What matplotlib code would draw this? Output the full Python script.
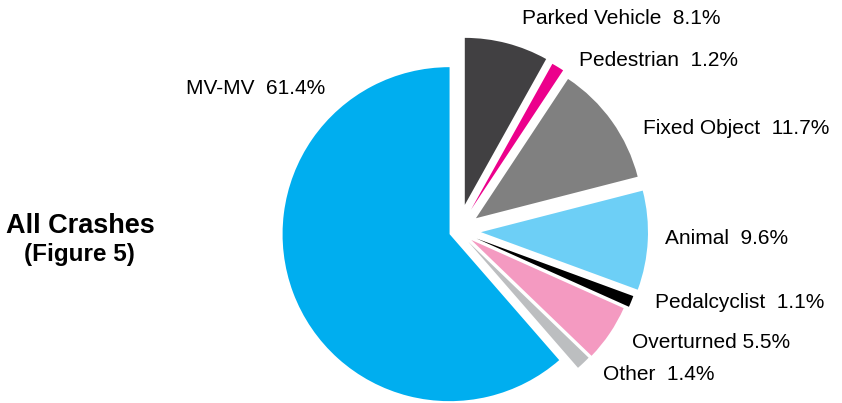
import matplotlib
matplotlib.use("Agg")
import matplotlib.pyplot as plt

# slice order: clockwise from 12 o'clock
categories = ["Parked Vehicle", "Pedestrian", "Fixed Object", "Animal",
              "Pedalcyclist", "Overturned", "Other", "MV-MV"]
shares = [8.1, 1.2, 11.7, 9.6, 1.1, 5.5, 1.4, 61.4]
colors = ["#414042", "#EC008C", "#808080", "#6DCFF6",
          "#000000", "#F49AC1", "#BCBEC0", "#00AEEF"]
labels = ["Parked Vehicle  8.1%", "Pedestrian  1.2%", "Fixed Object  11.7%",
          "Animal  9.6%", "Pedalcyclist  1.1%", "Overturned 5.5%",
          "Other  1.4%", "MV-MV  61.4%"]

W, H = 842, 403
plt.rcParams["font.family"] = ["Liberation Sans", "DejaVu Sans"]

fig = plt.figure(figsize=(W / 100, H / 100), dpi=100)
ax = fig.add_axes([0, 0, 1, 1])

# pie drawn in pixel-like data units (y up)
cx, cy, r = 458, H - 231, 167
explode = [27, 25, 22, 23, 20, 16, 15, 9]
ax.pie(shares, colors=colors, startangle=90, counterclock=False,
       center=(cx, cy), radius=r, explode=explode,
       wedgeprops=dict(linewidth=0))

# label anchors (left edge, vertical middle) in pixels from top-left
lab_x = [522, 579, 643, 665, 655, 632, 603, 186]
lab_y = [18, 61, 128, 238, 302, 343, 375, 88]
for t, x, y in zip(labels, lab_x, lab_y):
    ax.text(x, H - y, t, fontsize=15, ha="left", va="center", color="black")

ax.text(80, H - 226, "All Crashes", fontsize=19.5, fontweight="bold",
        ha="center", va="center", color="black")
ax.text(79, H - 254, "(Figure 5)", fontsize=17.5, fontweight="bold",
        ha="center", va="center", color="black")

ax.set_xlim(0, W)
ax.set_ylim(0, H)
ax.set_aspect("equal")
ax.axis("off")
fig.savefig("out.png", dpi=100)
